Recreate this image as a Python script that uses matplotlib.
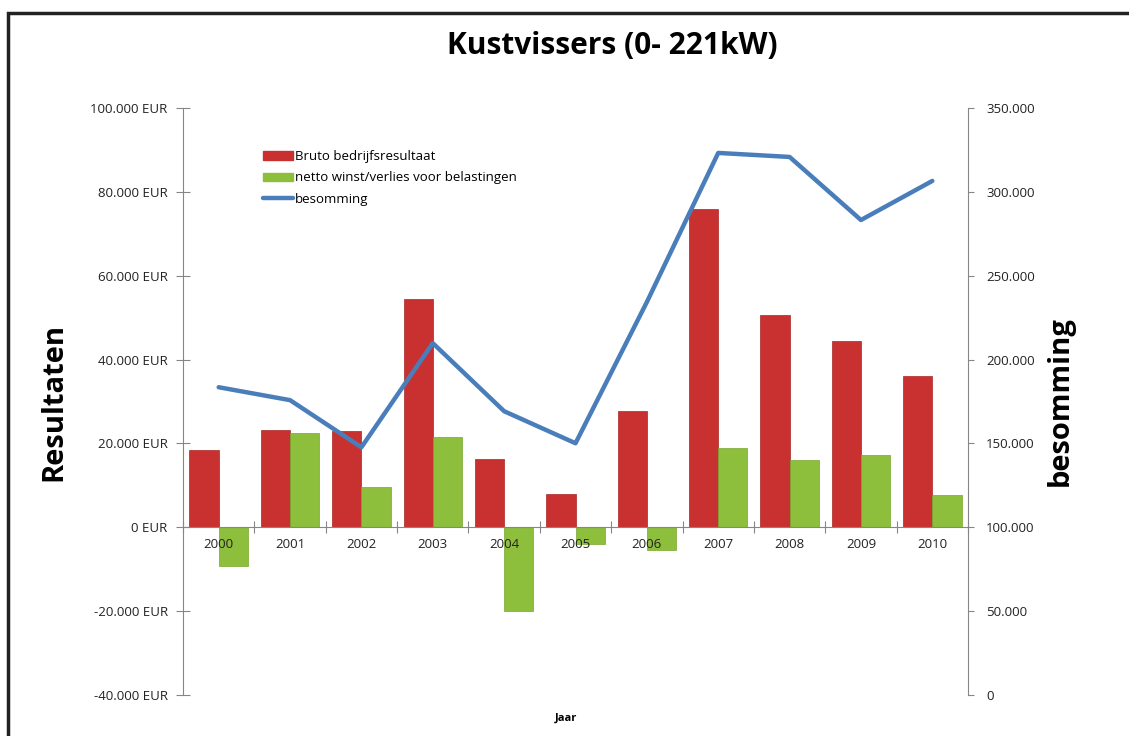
import matplotlib.pyplot as plt
import numpy as np
from matplotlib.patches import Rectangle
from matplotlib.lines import Line2D
from matplotlib.ticker import FuncFormatter

plt.rcParams['font.family'] = ['Open Sans', 'DejaVu Sans']

# Data
years = ["2000", "2001", "2002", "2003", "2004", "2005",
         "2006", "2007", "2008", "2009", "2010"]
bruto = [18400, 23300, 23000, 54400, 16300, 7900, 27700, 75900, 50700, 44500, 36000]
netto = [-9300, 22500, 9500, 21600, -20000, -4000, -5500, 18900, 16000, 17300, 7700]
besomming = [183500, 175800, 147700, 209800, 169200, 150100,
             234300, 323200, 320800, 283200, 306500]

red = "#C8312F"
green = "#8DBE3C"
blue = "#4A7EBB"
grey = "#868686"

fig = plt.figure(figsize=(11.29, 7.36), dpi=100)
ax = fig.add_axes([0.1621, 0.0557, 0.6953, 0.7976])
ax2 = ax.twinx()

x = np.arange(len(years))
w = 0.41
ax.bar(x - w / 2, bruto, width=w, color=red, edgecolor="#A82624", linewidth=0.5, zorder=2)
ax.bar(x + w / 2, netto, width=w, color=green, edgecolor="#78A52E", linewidth=0.5, zorder=2)
ax.set_axisbelow(False)
ax2.plot(x, besomming, color=blue, linewidth=3.2, solid_capstyle="round", zorder=3)

ax.set_xlim(-0.5, len(years) - 0.5)
ax.set_ylim(-40000, 100000)
ax.set_yticks(range(-40000, 100001, 20000))
ax.yaxis.set_major_formatter(FuncFormatter(lambda v, p: f"{int(v):,} EUR".replace(",", ".")))
ax2.set_ylim(0, 350000)
ax2.set_yticks(range(0, 350001, 50000))
ax2.yaxis.set_major_formatter(FuncFormatter(lambda v, p: f"{int(v):,}".replace(",", ".")))

# x axis at zero, ticks between categories, labels centered
ax.spines["bottom"].set_position(("data", 0))
ax.set_xticks(np.arange(-0.5, len(years), 1.0))
ax.set_xticklabels([])
ax.set_xticks(x, minor=True)
ax.set_xticklabels(years, minor=True)
ax.tick_params(axis="x", which="major", direction="inout", length=8, color=grey)
ax.tick_params(axis="x", which="minor", length=0, pad=8, labelsize=9.5, labelcolor="#222222")
ax.tick_params(axis="y", direction="inout", length=10, color=grey, labelsize=9.5,
               labelcolor="#222222", pad=6)
ax2.tick_params(axis="y", direction="out", length=4, color=grey, labelsize=9.5,
                labelcolor="#222222", pad=9)

for a in (ax, ax2):
    a.spines["top"].set_visible(False)
    for s in ("left", "right", "bottom"):
        a.spines[s].set_color(grey)
ax2.spines["bottom"].set_visible(False)
ax.spines["right"].set_visible(False)
ax2.spines["left"].set_visible(False)

ax.set_ylabel("Resultaten", fontsize=21, fontweight="bold", labelpad=16)
ax2.set_ylabel("besomming", fontsize=21, fontweight="bold", labelpad=8)
fig.text(0.542, 0.938, "Kustvissers (0- 221kW)", ha="center", va="center",
         fontsize=21.5, fontweight="bold")
fig.text(0.501, 0.024, "Jaar", ha="center", va="center", fontsize=8, fontweight="bold")

handles = [Rectangle((0, 0), 1, 1, color=red),
           Rectangle((0, 0), 1, 1, color=green),
           Line2D([], [], color=blue, linewidth=3.2, solid_capstyle="round")]
labels = ["Bruto bedrijfsresultaat", "netto winst/verlies voor belastingen", "besomming"]
ax2.legend(handles, labels, loc="upper left", bbox_to_anchor=(0.095, 0.937),
           frameon=False, fontsize=9.5, handlelength=2.3, handleheight=0.6,
           handletextpad=0.1, labelspacing=0.62, borderaxespad=0)

# outer border of the chart object
fig.patches.append(Rectangle((8 / 1129, -0.05), 1.2, 1 - 13 / 736 + 0.05,
                             transform=fig.transFigure, fill=False,
                             edgecolor="#222222", linewidth=2.5))

fig.savefig("out.png", dpi=100)
